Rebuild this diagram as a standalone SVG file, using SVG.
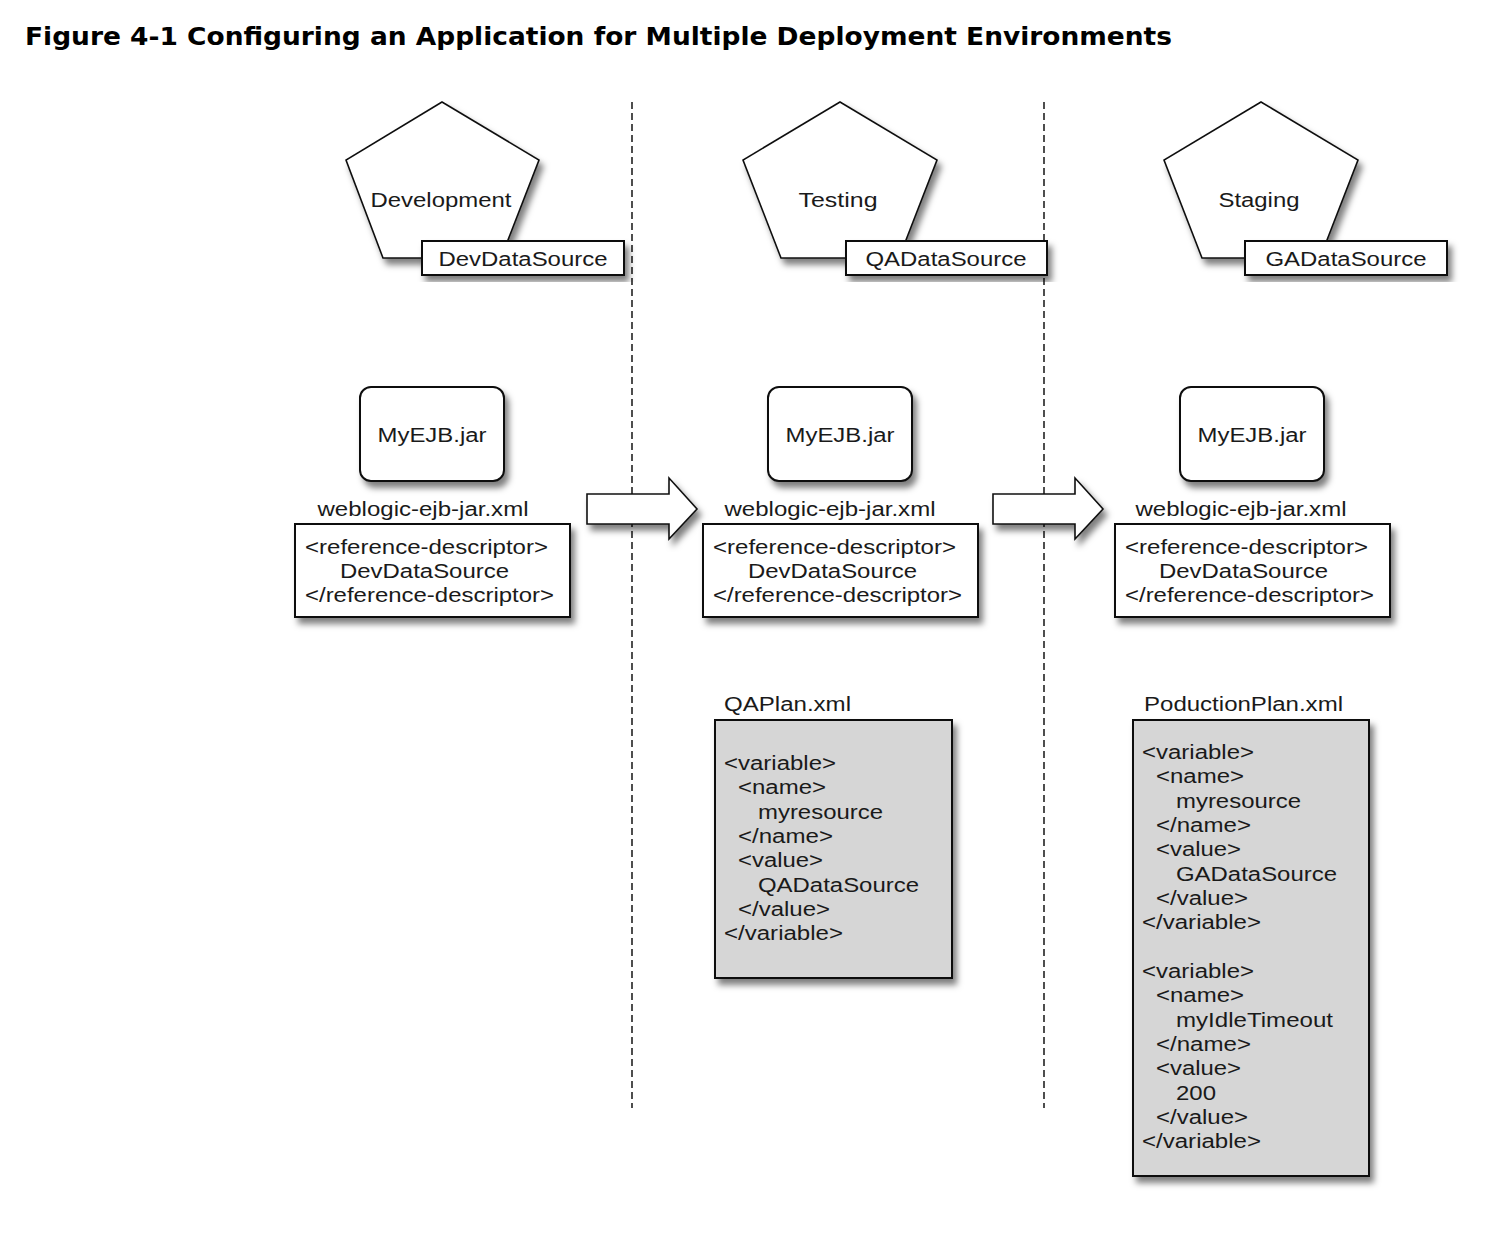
<svg xmlns="http://www.w3.org/2000/svg" width="1486" height="1244" viewBox="0 0 1486 1244">
<style>
.t{font-family:"Liberation Sans",Arial,sans-serif;font-size:20px;fill:#1a1a1a;}
.m{text-anchor:middle;}
.title{font-family:"DejaVu Sans",Verdana,sans-serif;font-weight:bold;font-size:25px;fill:#000;}
.shape{fill:#fff;stroke:#111;stroke-width:1.6;filter:url(#sh);}
.box{fill:#fff;stroke:#111;stroke-width:2;filter:url(#sh);}
.plan{fill:#d6d6d6;stroke:#111;stroke-width:2;filter:url(#sh);}
.dash{stroke:#222;stroke-width:1.6;stroke-dasharray:7 4;fill:none;}
</style>
<defs>
<filter id="sh" x="-10%" y="-10%" width="130%" height="130%">
<feDropShadow dx="4" dy="6" stdDeviation="3" flood-color="#000" flood-opacity="0.5"/>
</filter>
</defs>
<rect width="1486" height="1244" fill="#fff"/>
<text class="title" x="25" y="45" textLength="1147" lengthAdjust="spacingAndGlyphs">Figure 4-1 Configuring an Application for Multiple Deployment Environments</text>

<g id="separators">
<line class="dash" x1="632" y1="102" x2="632" y2="1108"/>
<line class="dash" x1="1044" y1="102" x2="1044" y2="1108"/>
</g>

<g id="env-development">
<polygon class="shape" points="442,102 539,160 501,258 383,258 346,160"/>
<text class="t m" x="441" y="207" textLength="141" lengthAdjust="spacingAndGlyphs">Development</text>
<rect class="box" x="422" y="241" width="202" height="34"/>
<text class="t m" x="523" y="266" textLength="169" lengthAdjust="spacingAndGlyphs">DevDataSource</text>
</g>
<g id="env-testing">
<polygon class="shape" points="840,102 937,160 899,258 781,258 743,160"/>
<text class="t m" x="838" y="207" textLength="79" lengthAdjust="spacingAndGlyphs">Testing</text>
<rect class="box" x="846" y="241" width="201" height="34"/>
<text class="t m" x="946" y="266" textLength="161" lengthAdjust="spacingAndGlyphs">QADataSource</text>
</g>
<g id="env-staging">
<polygon class="shape" points="1261,102 1358,160 1320,258 1202,258 1164,160"/>
<text class="t m" x="1259" y="207" textLength="81" lengthAdjust="spacingAndGlyphs">Staging</text>
<rect class="box" x="1245" y="241" width="202" height="34"/>
<text class="t m" x="1346" y="266" textLength="161" lengthAdjust="spacingAndGlyphs">GADataSource</text>
</g>

<g id="jar-dev">
<rect class="box" x="360" y="387" width="144" height="94" rx="11"/>
<text class="t m" x="432" y="442" textLength="109" lengthAdjust="spacingAndGlyphs">MyEJB.jar</text>
</g>
<g id="jar-test">
<rect class="box" x="768" y="387" width="144" height="94" rx="11"/>
<text class="t m" x="840" y="442" textLength="109" lengthAdjust="spacingAndGlyphs">MyEJB.jar</text>
</g>
<g id="jar-stage">
<rect class="box" x="1180" y="387" width="144" height="94" rx="11"/>
<text class="t m" x="1252" y="442" textLength="109" lengthAdjust="spacingAndGlyphs">MyEJB.jar</text>
</g>

<g id="desc-dev">
<text class="t m" x="423" y="516" textLength="211" lengthAdjust="spacingAndGlyphs">weblogic-ejb-jar.xml</text>
<rect class="box" x="295" y="524" width="275" height="93"/>
<text class="t" x="305" y="554" textLength="243" lengthAdjust="spacingAndGlyphs">&lt;reference-descriptor&gt;</text>
<text class="t" x="340" y="578" textLength="169" lengthAdjust="spacingAndGlyphs">DevDataSource</text>
<text class="t" x="305" y="602" textLength="249" lengthAdjust="spacingAndGlyphs">&lt;/reference-descriptor&gt;</text>
</g>
<g id="desc-test">
<text class="t m" x="830" y="516" textLength="211" lengthAdjust="spacingAndGlyphs">weblogic-ejb-jar.xml</text>
<rect class="box" x="703" y="524" width="275" height="93"/>
<text class="t" x="713" y="554" textLength="243" lengthAdjust="spacingAndGlyphs">&lt;reference-descriptor&gt;</text>
<text class="t" x="748" y="578" textLength="169" lengthAdjust="spacingAndGlyphs">DevDataSource</text>
<text class="t" x="713" y="602" textLength="249" lengthAdjust="spacingAndGlyphs">&lt;/reference-descriptor&gt;</text>
</g>
<g id="desc-stage">
<text class="t m" x="1241" y="516" textLength="211" lengthAdjust="spacingAndGlyphs">weblogic-ejb-jar.xml</text>
<rect class="box" x="1115" y="524" width="275" height="93"/>
<text class="t" x="1125" y="554" textLength="243" lengthAdjust="spacingAndGlyphs">&lt;reference-descriptor&gt;</text>
<text class="t" x="1159" y="578" textLength="169" lengthAdjust="spacingAndGlyphs">DevDataSource</text>
<text class="t" x="1125" y="602" textLength="249" lengthAdjust="spacingAndGlyphs">&lt;/reference-descriptor&gt;</text>
</g>

<g id="connectors">
<polygon class="shape" points="587,494 669,494 669,478 697,509 669,539 669,524 587,524"/>
<polygon class="shape" points="993,494 1075,494 1075,478 1103,509 1075,539 1075,524 993,524"/>
</g>

<g id="qa-plan">
<text class="t" x="724" y="711" textLength="127" lengthAdjust="spacingAndGlyphs">QAPlan.xml</text>
<rect class="plan" x="715" y="720" width="237" height="258"/>
<text class="t" x="724" y="770" textLength="112" lengthAdjust="spacingAndGlyphs">&lt;variable&gt;</text>
<text class="t" x="738" y="794" textLength="88" lengthAdjust="spacingAndGlyphs">&lt;name&gt;</text>
<text class="t" x="758" y="819" textLength="125" lengthAdjust="spacingAndGlyphs">myresource</text>
<text class="t" x="738" y="843" textLength="95" lengthAdjust="spacingAndGlyphs">&lt;/name&gt;</text>
<text class="t" x="738" y="867" textLength="85" lengthAdjust="spacingAndGlyphs">&lt;value&gt;</text>
<text class="t" x="758" y="892" textLength="161" lengthAdjust="spacingAndGlyphs">QADataSource</text>
<text class="t" x="738" y="916" textLength="92" lengthAdjust="spacingAndGlyphs">&lt;/value&gt;</text>
<text class="t" x="724" y="940" textLength="119" lengthAdjust="spacingAndGlyphs">&lt;/variable&gt;</text>
</g>

<g id="production-plan">
<text class="t" x="1144" y="711" textLength="199" lengthAdjust="spacingAndGlyphs">PoductionPlan.xml</text>
<rect class="plan" x="1133" y="720" width="236" height="456"/>
<text class="t" x="1142" y="759" textLength="112" lengthAdjust="spacingAndGlyphs">&lt;variable&gt;</text>
<text class="t" x="1156" y="783" textLength="88" lengthAdjust="spacingAndGlyphs">&lt;name&gt;</text>
<text class="t" x="1176" y="808" textLength="125" lengthAdjust="spacingAndGlyphs">myresource</text>
<text class="t" x="1156" y="832" textLength="95" lengthAdjust="spacingAndGlyphs">&lt;/name&gt;</text>
<text class="t" x="1156" y="856" textLength="85" lengthAdjust="spacingAndGlyphs">&lt;value&gt;</text>
<text class="t" x="1176" y="881" textLength="161" lengthAdjust="spacingAndGlyphs">GADataSource</text>
<text class="t" x="1156" y="905" textLength="92" lengthAdjust="spacingAndGlyphs">&lt;/value&gt;</text>
<text class="t" x="1142" y="929" textLength="119" lengthAdjust="spacingAndGlyphs">&lt;/variable&gt;</text>
<text class="t" x="1142" y="978" textLength="112" lengthAdjust="spacingAndGlyphs">&lt;variable&gt;</text>
<text class="t" x="1156" y="1002" textLength="88" lengthAdjust="spacingAndGlyphs">&lt;name&gt;</text>
<text class="t" x="1176" y="1027" textLength="157" lengthAdjust="spacingAndGlyphs">myIdleTimeout</text>
<text class="t" x="1156" y="1051" textLength="95" lengthAdjust="spacingAndGlyphs">&lt;/name&gt;</text>
<text class="t" x="1156" y="1075" textLength="85" lengthAdjust="spacingAndGlyphs">&lt;value&gt;</text>
<text class="t" x="1176" y="1100" textLength="40" lengthAdjust="spacingAndGlyphs">200</text>
<text class="t" x="1156" y="1124" textLength="92" lengthAdjust="spacingAndGlyphs">&lt;/value&gt;</text>
<text class="t" x="1142" y="1148" textLength="119" lengthAdjust="spacingAndGlyphs">&lt;/variable&gt;</text>
</g>
</svg>
